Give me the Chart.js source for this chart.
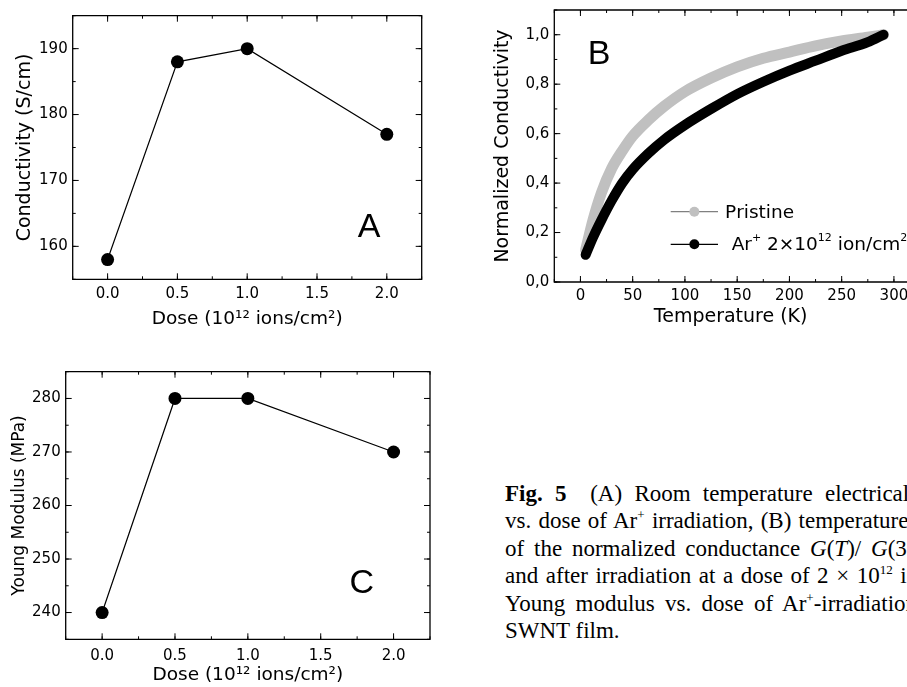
<!DOCTYPE html>
<html>
<head>
<meta charset="utf-8">
<script src="https://cdn.jsdelivr.net/npm/chart.js@4.4.0/dist/chart.umd.min.js"></script>
<style>
    html, body { margin: 0; padding: 0; width: 907px; height: 687px; overflow: hidden; background: #fff; }
    canvas { position: absolute; }
    #cvA { left: 0; top: 0; }
    #cvB { left: 460px; top: 0; }
    #cvC { left: 0; top: 350px; }
    #caption { position: absolute; left: 505px; top: 0; font-family: "Liberation Serif", "Times New Roman", serif; font-size: 23px; color: #000; }
    .ln { position: absolute; left: 0; white-space: nowrap; line-height: 27.5px; }
    sup { font-size: 13px; line-height: 0; vertical-align: 9px; }
</style>
</head>
<body>
<canvas id="cvA" width="440" height="335"></canvas>
<canvas id="cvB" width="447" height="340"></canvas>
<canvas id="cvC" width="450" height="337"></canvas>

<div id="caption">
    <div class="ln" style="top:479.5px;word-spacing:6.5px"><b>Fig. 5</b>&ensp;&nbsp;(A) Room temperature electrical conductivity</div>
    <div class="ln" style="top:507px;word-spacing:1.5px">vs. dose of Ar<sup>+</sup> irradiation, (B) temperature dependence</div>
    <div class="ln" style="top:534.5px;word-spacing:4.1px">of the normalized conductance <i>G</i>(<i>T</i>)/ <i>G</i>(300 K) before</div>
    <div class="ln" style="top:562px;word-spacing:1.8px">and after irradiation at a dose of 2 × 10<sup>12</sup> ions/cm<sup>2</sup>, (C)</div>
    <div class="ln" style="top:589.5px;word-spacing:4.5px">Young modulus vs. dose of Ar<sup>+</sup>-irradiation of the</div>
    <div class="ln" style="top:617px">SWNT film.</div>
</div>

<script>
// panel A / C: dose series
const doses = [0, 0.5, 1.0, 2.0];
const conductivity = [158, 188, 190, 177];
const youngModulus = [240, 280, 280, 270];
const doseTicks = [0, 0.5, 1.0, 1.5, 2.0];
const conductivityTicks = [160, 170, 180, 190];
const modulusTicks = [240, 250, 260, 270, 280];

// panel B: normalized conductivity vs temperature
const temperature = [5, 12, 20, 30, 40, 50, 65, 80, 100, 125, 150, 175, 200, 225, 250, 275, 290];
const pristine = [0.13, 0.25, 0.36, 0.46, 0.53, 0.59, 0.655, 0.71, 0.77, 0.825, 0.87, 0.905, 0.93, 0.955, 0.975, 0.99, 1.0];
const irradiated = [0.11, 0.18, 0.25, 0.33, 0.40, 0.455, 0.52, 0.575, 0.635, 0.70, 0.76, 0.81, 0.855, 0.895, 0.935, 0.97, 1.0];
const tempTicks = [0, 50, 100, 150, 200, 250, 300];
const normTicks = [0, 0.2, 0.4, 0.6, 0.8, 1.0];

Chart.defaults.font.family = '"DejaVu Sans", sans-serif';
Chart.defaults.color = "#000";

function toPoints(xs, ys) {
    return xs.map((x, i) => ({ x: x, y: ys[i] }));
}

// fixed axis sizes, so the plot boxes land where the figure has them
function fixWidth(w) {
    return s => { s.width = w; s.paddingTop = 0; s.paddingBottom = 0; };
}
function fixHeight(h) {
    return s => { s.height = h; s.paddingLeft = 0; s.paddingRight = 0; };
}

// box around the plot with inward ticks; panel B is cut by the page edge, so no right side there
const framePlugin = {
    id: "frame",
    afterDatasetsDraw(chart, args, opts) {
        const { ctx, chartArea: a, scales } = chart;
        const right = !opts.openRight;
        ctx.save();
        ctx.strokeStyle = "#000";
        ctx.lineWidth = 1.3;
        ctx.beginPath();
        ctx.moveTo(a.right, a.top); ctx.lineTo(a.left, a.top);
        ctx.lineTo(a.left, a.bottom); ctx.lineTo(a.right, a.bottom);
        if (right) ctx.closePath();
        ctx.stroke();
        ctx.lineWidth = 1;

        function tick(scale, v, len, horizontal) {
            const p = scale.getPixelForValue(v);
            ctx.beginPath();
            if (horizontal) {
                ctx.moveTo(p, a.bottom); ctx.lineTo(p, a.bottom - len);
                ctx.moveTo(p, a.top); ctx.lineTo(p, a.top + len);
            } else {
                ctx.moveTo(a.left, p); ctx.lineTo(a.left + len, p);
                if (right) { ctx.moveTo(a.right, p); ctx.lineTo(a.right - len, p); }
            }
            ctx.stroke();
        }
        function minors(scale, step, horizontal) {
            const first = Math.ceil(scale.min / step - 1e-6);
            const last = Math.floor(scale.max / step + 1e-6);
            for (let i = first; i <= last; i++) tick(scale, i * step, 3, horizontal);
        }
        minors(scales.x, opts.xMinor, true);
        minors(scales.y, opts.yMinor, false);
        scales.x.ticks.forEach(t => tick(scales.x, t.value, 6, true));
        scales.y.ticks.forEach(t => tick(scales.y, t.value, 6, false));

        if (opts.letter) {
            ctx.fillStyle = "#000";
            ctx.font = '34px "Liberation Sans", Arial, sans-serif';
            ctx.textAlign = "center";
            ctx.textBaseline = "middle";
            ctx.fillText(opts.letter, a.left + opts.fx * (a.right - a.left), a.top + opts.fy * (a.bottom - a.top));
        }
        ctx.restore();
    }
};

// superscript characters are drawn small and raised
const SUP = { "⁺": "+", "⁰": "0", "¹": "1", "²": "2" };
function drawRich(ctx, text, x, y, size) {
    let cx = x;
    for (const ch of text) {
        const s = SUP[ch];
        ctx.font = (s ? Math.round(size * 0.6) : size) + 'px "DejaVu Sans", sans-serif';
        const t = s || ch;
        ctx.fillText(t, cx, s ? y - size * 0.4 : y);
        cx += ctx.measureText(t).width;
    }
}

// legend of panel B: short line, dot, line, label
const legendPlugin = {
    id: "legendB",
    afterDraw(chart, args, opts) {
        if (!opts.rows) return;
        const ctx = chart.ctx;
        ctx.save();
        chart.data.datasets.forEach((ds, i) => {
            const row = opts.rows[i];
            ctx.strokeStyle = row.lineColor;
            ctx.lineWidth = 1.3;
            ctx.beginPath();
            ctx.moveTo(opts.x0, row.y); ctx.lineTo(opts.x1, row.y);
            ctx.stroke();
            ctx.fillStyle = ds.borderColor;
            ctx.beginPath();
            ctx.arc((opts.x0 + opts.x1) / 2, row.y, 5, 0, Math.PI * 2);
            ctx.fill();
            ctx.fillStyle = "#000";
            ctx.textBaseline = "middle";
            drawRich(ctx, ds.label, row.textX, row.y + 1, 18.5);
        });
        ctx.restore();
    }
};

function doseChart(canvasId, values, yTicks, cfg) {
    const ctx = document.getElementById(canvasId).getContext("2d");
    return new Chart(ctx, {
        type: "scatter",
        data: {
            datasets: [{
                data: toPoints(doses, values),
                showLine: true,
                borderColor: "#000",
                borderWidth: 1.2,
                backgroundColor: "#000",
                pointRadius: 6.5,
                pointBorderWidth: 0
            }]
        },
        options: {
            responsive: false,
            animation: false,
            layout: { padding: { left: 0, top: cfg.top, right: cfg.right, bottom: 0 } },
            plugins: {
                legend: { display: false },
                tooltip: { enabled: false },
                frame: { xMinor: 0.25, yMinor: 5, letter: cfg.letter, fx: cfg.fx, fy: cfg.fy },
                legendB: {}
            },
            scales: {
                x: {
                    type: "linear",
                    min: -0.25,
                    max: 2.25,
                    afterBuildTicks: s => { s.ticks = doseTicks.map(v => ({ value: v })); },
                    afterFit: fixHeight(cfg.xHeight),
                    grid: { display: false, drawTicks: false },
                    border: { display: false },
                    ticks: { autoSkip: false, padding: cfg.xTickPad, font: { size: 15 }, callback: v => v.toFixed(1) },
                    title: { display: true, text: "Dose (10¹² ions/cm²)", font: { size: 18.5 }, padding: { top: 0, bottom: cfg.xTitlePad } }
                },
                y: {
                    type: "linear",
                    min: cfg.yMin,
                    max: cfg.yMax,
                    afterBuildTicks: s => { s.ticks = yTicks.map(v => ({ value: v })); },
                    afterFit: fixWidth(cfg.yWidth),
                    grid: { display: false, drawTicks: false },
                    border: { display: false },
                    ticks: { autoSkip: false, padding: 5, font: { size: 15 } },
                    title: { display: true, text: cfg.yTitle, font: { size: cfg.yTitleSize }, padding: { top: cfg.yTitlePad, bottom: 0 } }
                }
            }
        },
        plugins: [framePlugin, legendPlugin]
    });
}

doseChart("cvA", conductivity, conductivityTicks, {
    top: 15.7, right: 18.3, xHeight: 55.7, yWidth: 72.7,
    yMin: 155, yMax: 195, xTickPad: 6, xTitlePad: 4.4,
    yTitle: "Conductivity (S/cm)", yTitleSize: 19, yTitlePad: 13.6,
    letter: "A", fx: 0.849, fy: 0.803
});

doseChart("cvC", youngModulus, modulusTicks, {
    top: 21.7, right: 20, xHeight: 47.7, yWidth: 65.7,
    yMin: 235, yMax: 285, xTickPad: 7.5, xTitlePad: 1,
    yTitle: "Young Modulus (MPa)", yTitleSize: 17, yTitlePad: 9.8,
    letter: "C", fx: 0.8125, fy: 0.793
});

// panel B ends at the page edge: the visible part runs from -25 K to about 312 K
new Chart(document.getElementById("cvB").getContext("2d"), {
    type: "scatter",
    data: {
        datasets: [
            {
                label: "Pristine",
                data: toPoints(temperature, pristine),
                showLine: true,
                borderColor: "#c0c0c0",
                borderWidth: 11,
                borderCapStyle: "round",
                borderJoinStyle: "round",
                cubicInterpolationMode: "monotone",
                pointRadius: 0,
                order: 1
            },
            {
                label: "Ar⁺ 2×10¹² ion/cm²",
                data: toPoints(temperature, irradiated),
                showLine: true,
                borderColor: "#000",
                borderWidth: 10,
                borderCapStyle: "round",
                borderJoinStyle: "round",
                cubicInterpolationMode: "monotone",
                pointRadius: 0,
                order: 0
            }
        ]
    },
    options: {
        responsive: false,
        animation: false,
        layout: { padding: { left: 0, top: 10, right: 0, bottom: 0 } },
        plugins: {
            legend: { display: false },
            tooltip: { enabled: false },
            frame: { xMinor: 25, yMinor: 0.1, letter: "B", fx: 0.127, fy: 0.164, openRight: true },
            legendB: {
                x0: 210.7, x1: 258,
                rows: [
                    { y: 211.7, lineColor: "#808080", textX: 265 },
                    { y: 244.3, lineColor: "#000", textX: 271.7 }
                ]
            }
        },
        scales: {
            x: {
                type: "linear",
                min: -25,
                max: 312.5,
                afterBuildTicks: s => { s.ticks = tempTicks.map(v => ({ value: v })); },
                afterFit: fixHeight(58),
                grid: { display: false, drawTicks: false },
                border: { display: false },
                ticks: { autoSkip: false, padding: 5, font: { size: 15 }, callback: v => String(v) },
                title: { display: true, text: "Temperature (K)", font: { size: 19 }, padding: { top: 0, bottom: 11.1 } }
            },
            y: {
                type: "linear",
                min: 0,
                max: 1.1,
                afterBuildTicks: s => { s.ticks = normTicks.map(v => ({ value: v })); },
                afterFit: fixWidth(94.3),
                grid: { display: false, drawTicks: false },
                border: { display: false },
                ticks: { autoSkip: false, padding: 5, font: { size: 15 }, callback: v => v.toFixed(1).replace(".", ",") },
                title: { display: true, text: "Normalized Conductivity", font: { size: 19 }, padding: { top: 32.1, bottom: 0 } }
            }
        }
    },
    plugins: [framePlugin, legendPlugin]
});
</script>
</body>
</html>
